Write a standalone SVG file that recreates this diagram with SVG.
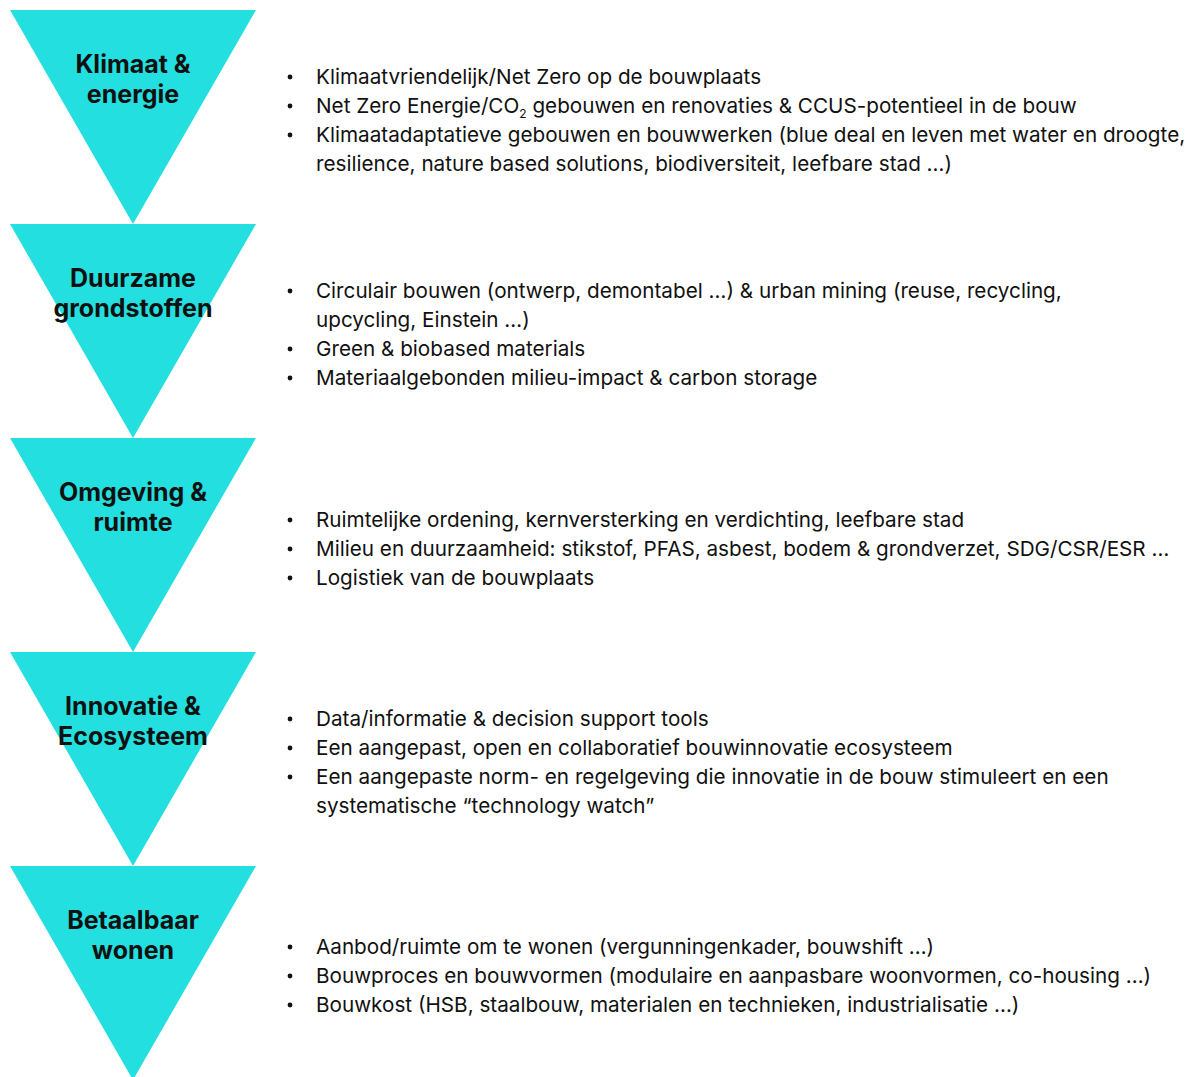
<svg xmlns="http://www.w3.org/2000/svg" width="1202" height="1077" viewBox="0 0 1202 1077">
  <style>
    .tri { fill: #24dfdf; }
    .title { font-family: "Inter", "DejaVu Sans", sans-serif; font-weight: 700; font-size: 25px; fill: #111111; text-anchor: middle; }
    .item { font-family: "Inter", "DejaVu Sans", sans-serif; font-size: 20.7px; fill: #111111; }
    .bullet { fill: #111111; }
    .sub { font-size: 12px; }
  </style>
  <rect width="1202" height="1077" fill="#ffffff"/>

  <!-- Theme 1 -->
  <g id="klimaat">
    <polygon class="tri" points="10,10 256,10 133,224"/>
    <text class="title" x="133" y="73">Klimaat &amp;</text>
    <text class="title" x="133" y="103">energie</text>
    <circle class="bullet" cx="290" cy="77" r="2.4"/>
    <circle class="bullet" cx="290" cy="106" r="2.4"/>
    <circle class="bullet" cx="290" cy="135" r="2.4"/>
    <text class="item" x="316" y="84">Klimaatvriendelijk/Net Zero op de bouwplaats</text>
    <text class="item" x="316" y="113">Net Zero Energie/CO<tspan class="sub" dy="5">2</tspan><tspan dy="-5"> gebouwen en renovaties &amp; CCUS-potentieel in de bouw</tspan></text>
    <text class="item" x="316" y="142">Klimaatadaptatieve gebouwen en bouwwerken (blue deal en leven met water en droogte,</text>
    <text class="item" x="316" y="171">resilience, nature based solutions, biodiversiteit, leefbare stad …)</text>
  </g>

  <!-- Theme 2 -->
  <g id="grondstoffen">
    <polygon class="tri" points="10,224 256,224 133,438"/>
    <text class="title" x="133" y="287">Duurzame</text>
    <text class="title" x="133" y="317">grondstoffen</text>
    <circle class="bullet" cx="290" cy="291" r="2.4"/>
    <circle class="bullet" cx="290" cy="349" r="2.4"/>
    <circle class="bullet" cx="290" cy="378" r="2.4"/>
    <text class="item" x="316" y="298">Circulair bouwen (ontwerp, demontabel …) &amp; urban mining (reuse, recycling,</text>
    <text class="item" x="316" y="327">upcycling, Einstein …)</text>
    <text class="item" x="316" y="356">Green &amp; biobased materials</text>
    <text class="item" x="316" y="385">Materiaalgebonden milieu-impact &amp; carbon storage</text>
  </g>

  <!-- Theme 3 -->
  <g id="omgeving">
    <polygon class="tri" points="10,438 256,438 133,652"/>
    <text class="title" x="133" y="501">Omgeving &amp;</text>
    <text class="title" x="133" y="531">ruimte</text>
    <circle class="bullet" cx="290" cy="520" r="2.4"/>
    <circle class="bullet" cx="290" cy="549" r="2.4"/>
    <circle class="bullet" cx="290" cy="578" r="2.4"/>
    <text class="item" x="316" y="527">Ruimtelijke ordening, kernversterking en verdichting, leefbare stad</text>
    <text class="item" x="316" y="556">Milieu en duurzaamheid: stikstof, PFAS, asbest, bodem &amp; grondverzet, SDG/CSR/ESR …</text>
    <text class="item" x="316" y="585">Logistiek van de bouwplaats</text>
  </g>

  <!-- Theme 4 -->
  <g id="innovatie">
    <polygon class="tri" points="10,652 256,652 133,866"/>
    <text class="title" x="133" y="715">Innovatie &amp;</text>
    <text class="title" x="133" y="745">Ecosysteem</text>
    <circle class="bullet" cx="290" cy="719" r="2.4"/>
    <circle class="bullet" cx="290" cy="748" r="2.4"/>
    <circle class="bullet" cx="290" cy="777" r="2.4"/>
    <text class="item" x="316" y="726">Data/informatie &amp; decision support tools</text>
    <text class="item" x="316" y="755">Een aangepast, open en collaboratief bouwinnovatie ecosysteem</text>
    <text class="item" x="316" y="784">Een aangepaste norm- en regelgeving die innovatie in de bouw stimuleert en een</text>
    <text class="item" x="316" y="813">systematische “technology watch”</text>
  </g>

  <!-- Theme 5 -->
  <g id="wonen">
    <polygon class="tri" points="10,866 256,866 133,1080"/>
    <text class="title" x="133" y="929">Betaalbaar</text>
    <text class="title" x="133" y="959">wonen</text>
    <circle class="bullet" cx="290" cy="947" r="2.4"/>
    <circle class="bullet" cx="290" cy="976" r="2.4"/>
    <circle class="bullet" cx="290" cy="1005" r="2.4"/>
    <text class="item" x="316" y="954">Aanbod/ruimte om te wonen (vergunningenkader, bouwshift …)</text>
    <text class="item" x="316" y="983">Bouwproces en bouwvormen (modulaire en aanpasbare woonvormen, co-housing …)</text>
    <text class="item" x="316" y="1012">Bouwkost (HSB, staalbouw, materialen en technieken, industrialisatie …)</text>
  </g>

  <!-- the triangles touch tip-to-base, so there are no separate connectors -->
  <g id="connectors"/>
</svg>
